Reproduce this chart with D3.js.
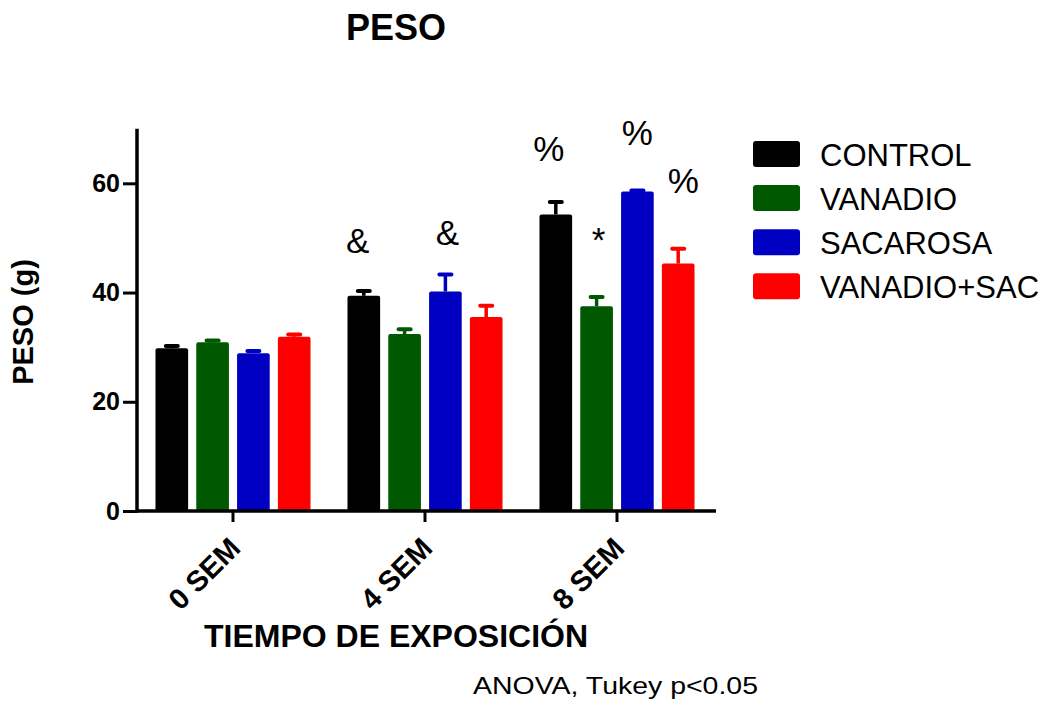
<!DOCTYPE html>
<html>
<head>
<meta charset="utf-8">
<script src="https://cdn.jsdelivr.net/npm/d3@7"></script>
<style>
  html, body { margin: 0; padding: 0; background: #fff; }
  svg { display: block; font-family: "Liberation Sans", Arial, sans-serif; }
</style>
</head>
<body>
<svg id="chart" width="1050" height="703"></svg>
<script>
// Body weight (g) by exposure time and treatment group, mean ± SEM
const groups = ["0 SEM", "4 SEM", "8 SEM"];
const series = ["CONTROL", "VANADIO", "SACAROSA", "VANADIO+SAC"];
const colors = ["#000000", "#005800", "#0000C2", "#FF0000"];

const meanControl  = [29.8, 39.4, 54.3];
const meanVanadio  = [30.9, 32.4, 37.5];
const meanSacarosa = [28.9, 40.2, 58.5];
const meanVanSac   = [31.9, 35.5, 45.3];

const semControl  = [0.4, 0.9, 2.3];
const semVanadio  = [0.3, 0.9, 1.7];
const semSacarosa = [0.4, 3.1, 0.2];
const semVanSac   = [0.4, 2.1, 2.7];

const yTicks = [0, 20, 40, 60];

// Significance marks: group, series, symbol, level (g)
const markGroup  = ["4 SEM", "4 SEM", "8 SEM", "8 SEM", "8 SEM", "8 SEM"];
const markSeries = ["CONTROL", "SACAROSA", "CONTROL", "VANADIO", "SACAROSA", "VANADIO+SAC"];
const markSymbol = ["&", "&", "%", "*", "%", "%"];
const markLevel  = [47.2, 48.7, 64.1, 47.4, 67.0, 58.2];

// Horizontal nudge of each mark from its bar centre (px)
const markDx = [-6, 2, -7, 2, 0, 5];

const means = [meanControl, meanVanadio, meanSacarosa, meanVanSac];
const sems  = [semControl, semVanadio, semSacarosa, semVanSac];

const rows = [];
groups.forEach((g, gi) => {
  series.forEach((s, si) => {
    rows.push({ group: g, series: s, mean: means[si][gi], sem: sems[si][gi], color: colors[si] });
  });
});

const svg = d3.select("#chart");
svg.append("rect").attr("width", 1050).attr("height", 703).attr("fill", "#fff");

const x0 = d3.scaleBand().domain(groups).range([137, 713]).paddingInner(0.15).paddingOuter(0.075);
const x1 = d3.scaleBand().domain(series).range([0, x0.bandwidth()]).paddingInner(0.2).paddingOuter(0.1);
const y = d3.scaleLinear().domain([0, 70]).range([511, 128.7]);
const color = d3.scaleOrdinal().domain(series).range(colors);

// Bars
const bars = svg.append("g");
bars.selectAll("rect")
  .data(rows)
  .join("rect")
  .attr("x", d => x0(d.group) + x1(d.series))
  .attr("y", d => y(d.mean))
  .attr("width", x1.bandwidth())
  .attr("height", d => y(0) - y(d.mean))
  .attr("rx", 2)
  .attr("fill", d => color(d.series));

// Upper error bars
const err = svg.append("g");
rows.forEach(d => {
  const cx = x0(d.group) + x1(d.series) + x1.bandwidth() / 2;
  err.append("line")
    .attr("x1", cx).attr("x2", cx)
    .attr("y1", y(d.mean)).attr("y2", y(d.mean + d.sem))
    .attr("stroke", d.color).attr("stroke-width", 3.5);
  err.append("line")
    .attr("x1", cx - 6).attr("x2", cx + 6)
    .attr("y1", y(d.mean + d.sem)).attr("y2", y(d.mean + d.sem))
    .attr("stroke", d.color).attr("stroke-width", 4).attr("stroke-linecap", "round");
});

// Y axis
const yAxis = svg.append("g").attr("transform", "translate(137,0)");
yAxis.call(d3.axisLeft(y).tickValues(yTicks).tickSize(14).tickPadding(3).tickFormat(d3.format("d")));
yAxis.select(".domain").remove();
yAxis.append("line").attr("x1", 0).attr("x2", 0).attr("y1", y(70)).attr("y2", y(0) + 1.5)
  .attr("stroke", "#000").attr("stroke-width", 3.5);
yAxis.selectAll(".tick line").attr("stroke", "#000").attr("stroke-width", 3);
yAxis.selectAll(".tick text")
  .attr("fill", "#000")
  .style("font-family", "'Liberation Sans', Arial, sans-serif")
  .style("font-size", "25px").style("font-weight", "bold");

// X axis
const xAxis = svg.append("g").attr("transform", `translate(0,${y(0)})`);
xAxis.call(d3.axisBottom(x0).tickSize(11).tickFormat(""));
xAxis.select(".domain").remove();
xAxis.append("line").attr("x1", 136).attr("x2", 716).attr("y1", 0).attr("y2", 0)
  .attr("stroke", "#000").attr("stroke-width", 3.5);
xAxis.selectAll(".tick line").attr("stroke", "#000").attr("stroke-width", 3);

// Rotated group labels
svg.append("g").selectAll("text")
  .data(groups)
  .join("text")
  .attr("transform", d => `translate(${x0(d) + x0.bandwidth() / 2 + 9},550) rotate(-45)`)
  .attr("text-anchor", "end")
  .style("font-size", "29px").style("font-weight", "bold")
  .text(d => d);

// Significance marks
svg.append("g").selectAll("text")
  .data(markSymbol.map((s, i) => ({ s, g: markGroup[i], ser: markSeries[i], level: markLevel[i], dx: markDx[i] })))
  .join("text")
  .attr("x", d => x0(d.g) + x1(d.ser) + x1.bandwidth() / 2 + d.dx)
  .attr("y", d => y(d.level))
  .attr("text-anchor", "middle")
  .style("font-size", "35px")
  .text(d => d.s);

// Titles
svg.append("text").attr("x", 396).attr("y", 39.5).attr("text-anchor", "middle")
  .style("font-size", "36px").style("font-weight", "bold").text("PESO");

svg.append("text").attr("transform", "translate(33,322) rotate(-90)").attr("text-anchor", "middle")
  .style("font-size", "29px").style("font-weight", "bold").text("PESO (g)");

svg.append("text").attr("x", 396).attr("y", 646.5).attr("text-anchor", "middle")
  .style("font-size", "32px").style("font-weight", "bold").text("TIEMPO DE EXPOSICIÓN");

svg.append("text").attr("x", 473).attr("y", 694.3)
  .attr("textLength", 285).attr("lengthAdjust", "spacingAndGlyphs")
  .style("font-size", "24px").text("ANOVA, Tukey p<0.05");

// Legend
const legend = svg.append("g").attr("transform", "translate(753,141)");
series.forEach((s, i) => {
  const row = legend.append("g").attr("transform", `translate(0,${i * 44.1})`);
  row.append("rect").attr("width", 47).attr("height", 26).attr("rx", 3).attr("fill", color(s));
  row.append("text").attr("x", 67).attr("y", 24.7).style("font-size", "31px").text(s);
});
</script>
</body>
</html>
